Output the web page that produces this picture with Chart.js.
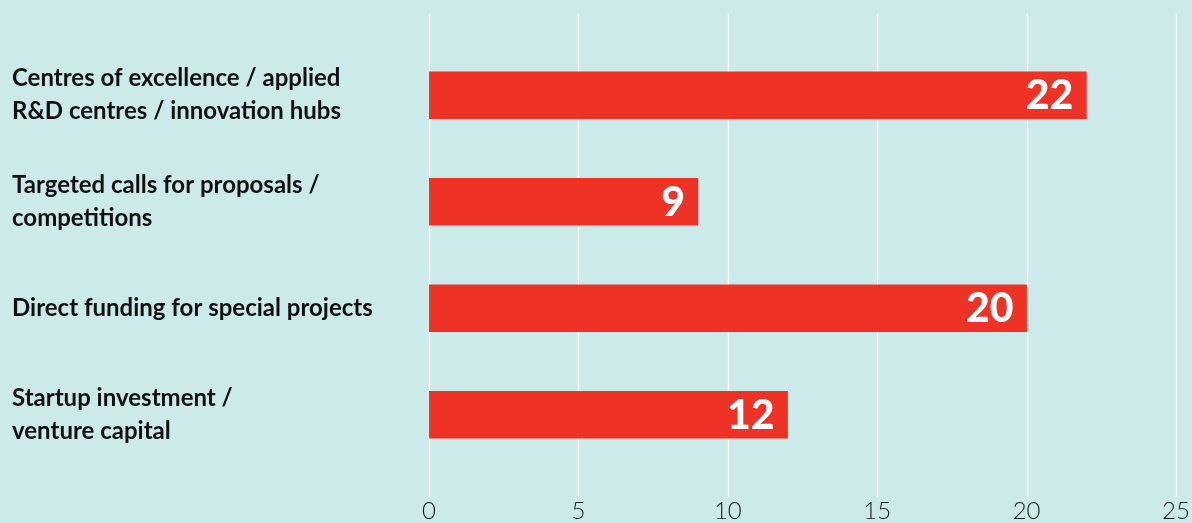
<!DOCTYPE html>
<html>
<head>
<meta charset="utf-8">
<script src="https://cdn.jsdelivr.net/npm/chart.js@4.4.0/dist/chart.umd.min.js"></script>
<style>
  html, body { margin: 0; padding: 0; background: #cdeaea; }
  #wrap { width: 1192px; height: 523px; position: relative; }
</style>
</head>
<body>
<div id="wrap"><canvas id="bars"></canvas></div>
<script>
const categories = [
  ['Centres of excellence / applied', 'R&D centres / innovation hubs'],
  ['Targeted calls for proposals /', 'competitions'],
  'Direct funding for special projects',
  ['Startup investment /', 'venture capital']
]
const values = [22, 9, 20, 12]
const xTicks = [0, 5, 10, 15, 20, 25]

// white vertical grid lines, running a bit above and below the plot
const gridLines = {
  id: 'gridLines',
  beforeDatasetsDraw(chart) {
    const { ctx, chartArea, scales } = chart
    ctx.save()
    ctx.strokeStyle = '#ffffff'
    ctx.lineWidth = 1.5
    xTicks.forEach(t => {
      const x = Math.round(scales.x.getPixelForValue(t)) + 0.5
      ctx.beginPath()
      ctx.moveTo(x, chartArea.top - 28)
      ctx.lineTo(x, chartArea.bottom + 29)
      ctx.stroke()
    })
    ctx.restore()
  }
}

// value written inside the end of each bar
const barValues = {
  id: 'barValues',
  afterDatasetsDraw(chart) {
    const { ctx } = chart
    const meta = chart.getDatasetMeta(0)
    ctx.save()
    ctx.fillStyle = '#ffffff'
    ctx.font = '900 41px Lato'
    ctx.textAlign = 'right'
    ctx.textBaseline = 'middle'
    meta.data.forEach((bar, i) => {
      ctx.fillText(String(values[i]), bar.x - 13, bar.y + 1)
    })
    ctx.restore()
  }
}

const ctx = document.getElementById('bars').getContext('2d')

new Chart(ctx, {
  type: 'bar',
  data: {
    labels: categories,
    datasets: [{
      data: values,
      backgroundColor: '#ee3226',
      borderWidth: 0,
      barThickness: 47
    }]
  },
  options: {
    indexAxis: 'y',
    responsive: true,
    maintainAspectRatio: false,
    animation: false,
    layout: { padding: { left: 12, right: 16, top: 42, bottom: 0 } },
    plugins: {
      legend: { display: false },
      tooltip: { enabled: false }
    },
    scales: {
      x: {
        min: 0,
        max: 25,
        afterBuildTicks(scale) {
          scale.ticks = xTicks.map(v => ({ value: v }))
        },
        afterFit(scale) {
          scale.height = 55
          scale.paddingLeft = 0
          scale.paddingRight = 0
        },
        grid: { display: false },
        border: { display: false },
        ticks: {
          padding: 23,
          maxRotation: 0,
          color: '#1a1a1a',
          font: { family: 'Lato', weight: '300', size: 24, lineHeight: 1 }
        }
      },
      y: {
        afterFit(scale) { scale.width = 417 },
        grid: { display: false },
        border: { display: false },
        ticks: {
          crossAlign: 'far',
          color: '#111111',
          font: { family: 'Lato', weight: 'bold', size: 24, lineHeight: 1.375 }
        }
      }
    }
  },
  plugins: [gridLines, barValues]
})
</script>
</body>
</html>
